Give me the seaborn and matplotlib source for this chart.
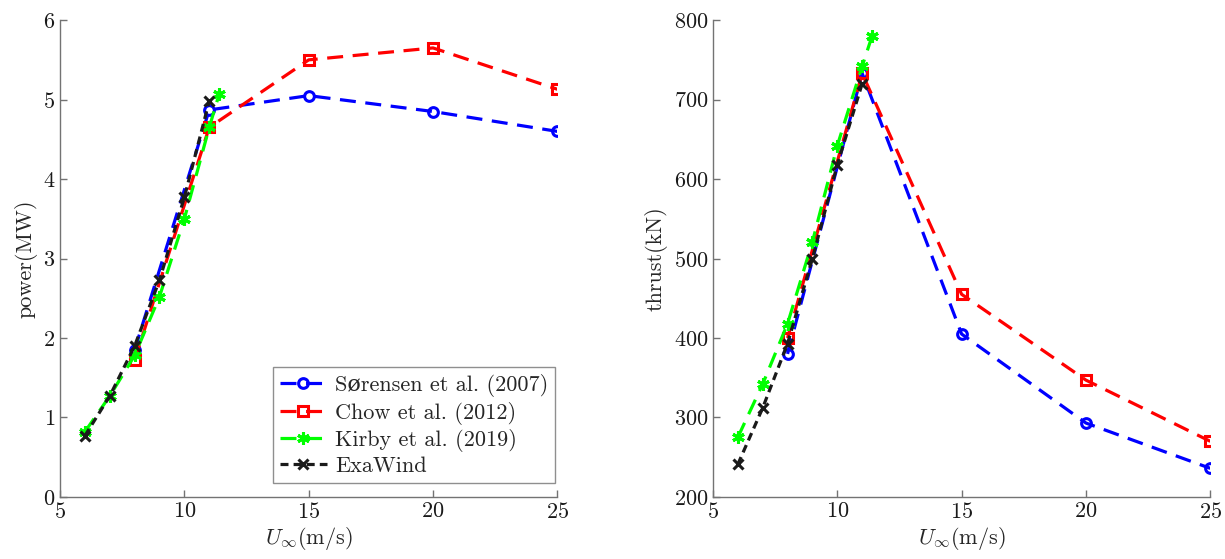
import matplotlib
matplotlib.use("Agg")
import seaborn as sns
import matplotlib.pyplot as plt

sns.set_theme(style="white")
plt.rcParams['font.family'] = ['cmr10', 'DejaVu Serif']
plt.rcParams['mathtext.fontset'] = 'cm'
plt.rcParams['axes.formatter.use_mathtext'] = True

# ------ data ------ #
u_ref = [8, 11, 15, 20, 25]
u_kirby = [6, 7, 8, 9, 10, 11, 11.4]
u_exa = [6, 7, 8, 9, 10, 11]

power_sorensen = [1.85, 4.87, 5.05, 4.85, 4.6]
power_chow = [1.72, 4.65, 5.5, 5.65, 5.13]
power_kirby = [0.82, 1.27, 1.78, 2.52, 3.5, 4.65, 5.07]
power_exa = [0.77, 1.27, 1.9, 2.73, 3.77, 4.98]

thrust_sorensen = [380, 733, 405, 293, 236]
thrust_chow = [400, 733, 455, 347, 270]
thrust_kirby = [275, 342, 418, 521, 642, 742, 780]
thrust_exa = [241, 312, 393, 500, 618, 720]

labels = ['Sørensen et al. (2007)', 'Chow et al. (2012)',
          'Kirby et al. (2019)', 'ExaWind']

fig = plt.figure(figsize=(12.25, 5.59), dpi=100, facecolor='w')
ax1 = fig.add_axes([0.049, 0.111, 0.406, 0.853])
ax2 = fig.add_axes([0.582, 0.111, 0.406, 0.853])


def draw(ax, ys, show_legend):
    xs = [u_ref, u_ref, u_kirby, u_exa]
    styles = [
        dict(color=(0, 0, 1), marker='o', mfc='none', ms=7, ls=(0, (5, 3))),
        dict(color=(1, 0, 0), marker='s', mfc='none', ms=6.5, ls=(0, (5, 3))),
        dict(color=(0, 1, 0), marker=(6, 2, 0), mfc=(0, 1, 0), ms=9,
             ls=(0, (5, 3))),
        dict(color='k', marker='x', mfc='k', ms=7.5, ls=(0, (2.5, 1.6))),
    ]
    for x, y, lab, st in zip(xs, ys, labels, styles):
        sns.lineplot(x=x, y=y, ax=ax, label=lab, lw=2.3, mew=2.2,
                     mec=st['color'], sort=False, legend=show_legend, **st)
    for side in ['top', 'right']:
        ax.spines[side].set_visible(False)
    for side in ['left', 'bottom']:
        ax.spines[side].set_color('0.45')
        ax.spines[side].set_linewidth(1.0)
    ax.tick_params(direction='in', length=5, width=1, colors='0.45',
                   labelcolor='k', labelsize=16, left=True, bottom=True)
    ax.set_xlim(5, 25)
    ax.set_xticks([5, 10, 15, 20, 25])
    ax.set_xlabel(r'$U_\infty$(m/s)', fontsize=16, labelpad=2)


draw(ax1, [power_sorensen, power_chow, power_kirby, power_exa], True)
ax1.set_ylim(0, 6)
ax1.set_yticks(range(0, 7))
ax1.set_ylabel('power(MW)', fontsize=16)
leg = ax1.legend(loc='lower right', bbox_to_anchor=(0.996, 0.03),
                 fontsize=16, frameon=True, fancybox=False, borderaxespad=0,
                 handlelength=2.1, handletextpad=0.4, labelspacing=0.2,
                 borderpad=0.3)
leg.get_frame().set_edgecolor('0.45')
leg.get_frame().set_linewidth(1.0)

draw(ax2, [thrust_sorensen, thrust_chow, thrust_kirby, thrust_exa], False)
ax2.set_ylim(200, 800)
ax2.set_yticks(range(200, 801, 100))
ax2.set_ylabel('thrust(kN)', fontsize=16)

plt.savefig('out.png', dpi=100)
